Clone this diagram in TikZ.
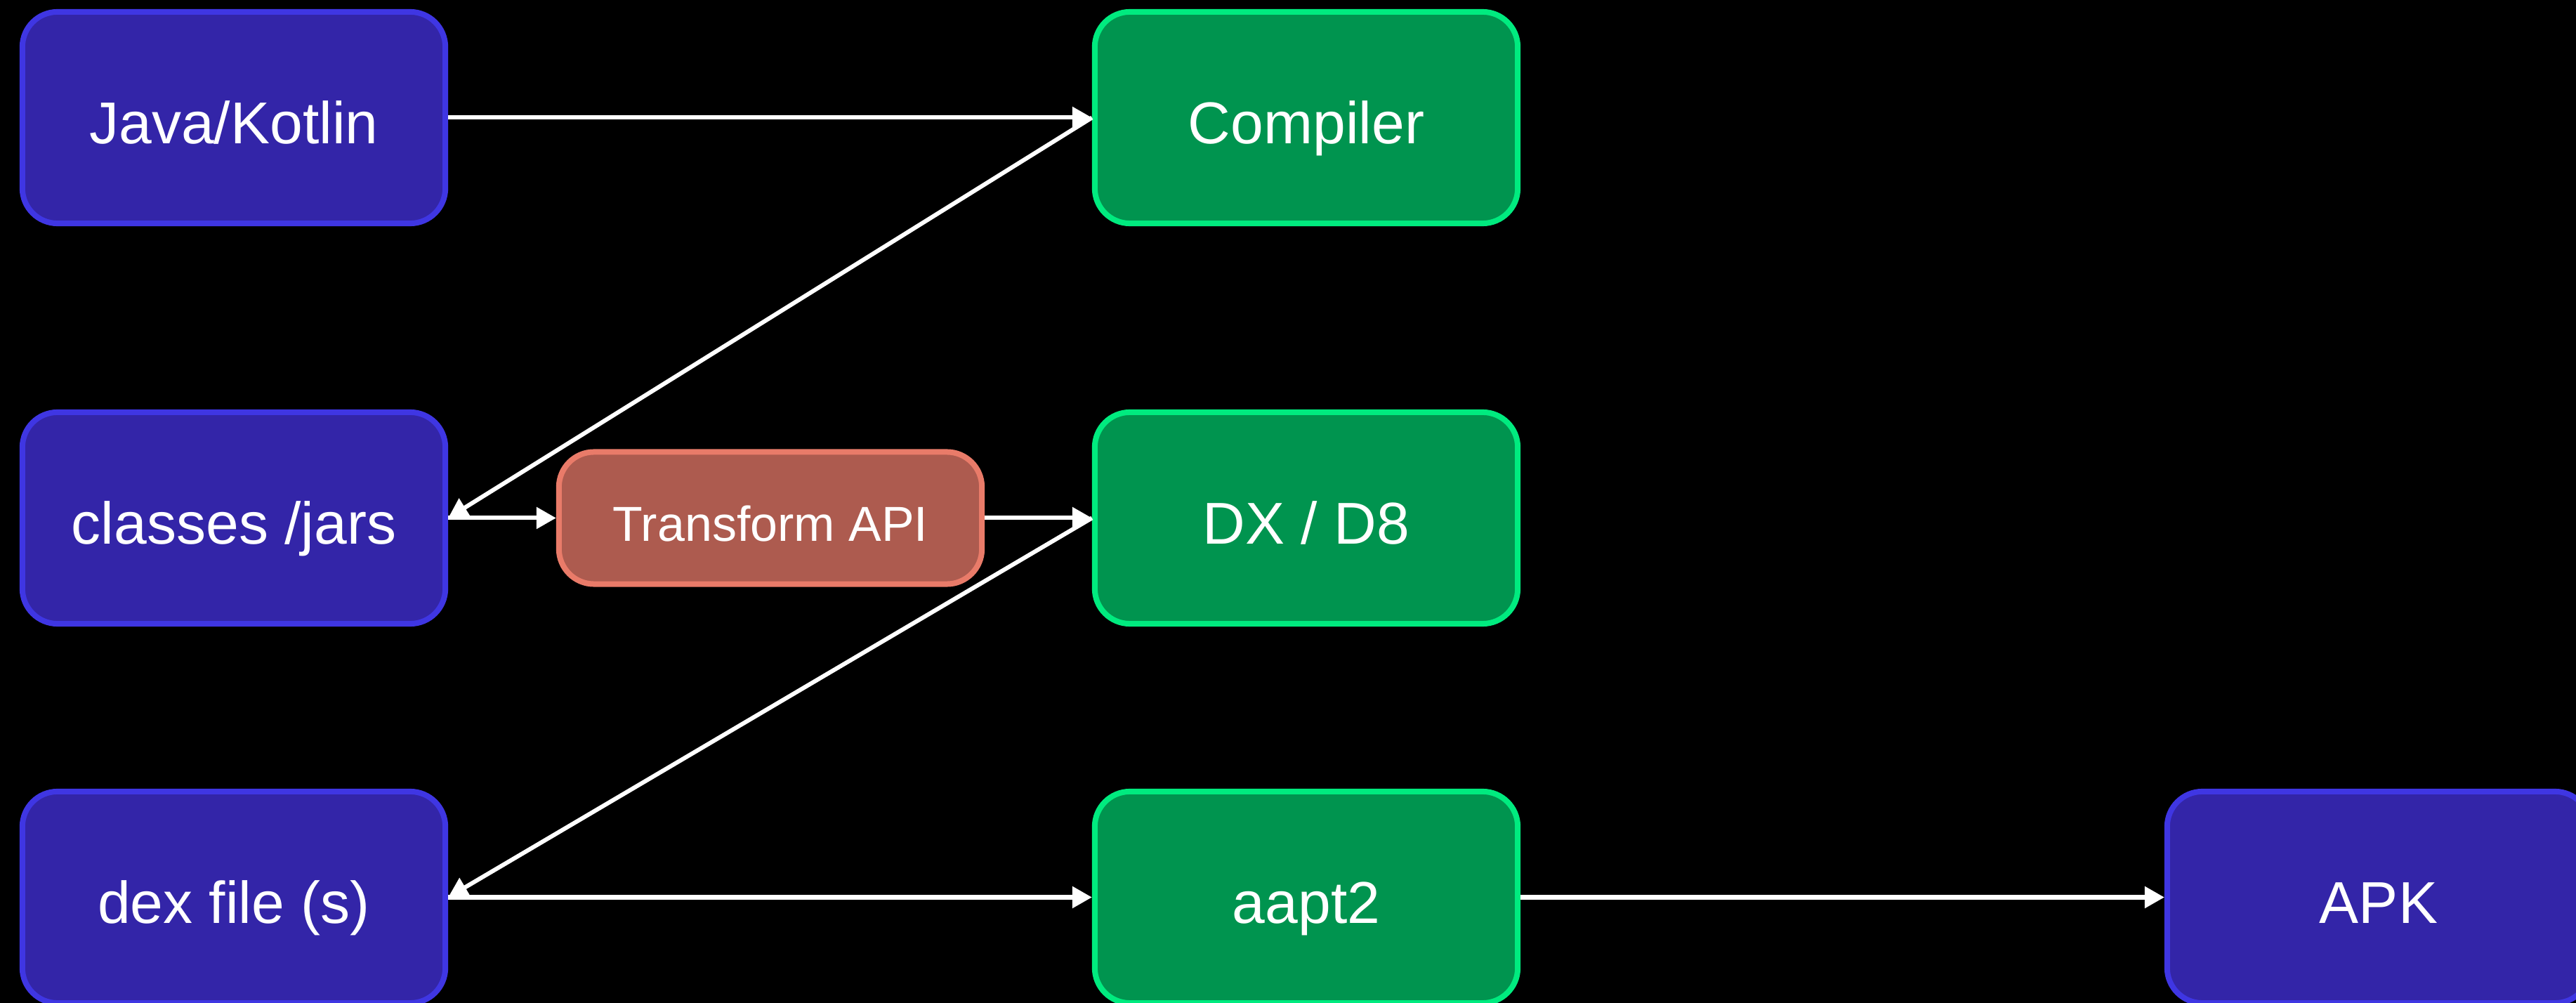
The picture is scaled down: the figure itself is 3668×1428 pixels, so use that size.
\documentclass[tikz,border=0pt]{standalone}
\usepackage{fontspec}
\setmainfont{Liberation Sans}
\usetikzlibrary{arrows.meta}
\definecolor{bluefill}{HTML}{3325A8}
\definecolor{blueline}{HTML}{3F36E3}
\definecolor{greenfill}{HTML}{00944F}
\definecolor{greenline}{HTML}{00EB7F}
\definecolor{redfill}{HTML}{AD5B4F}
\definecolor{redline}{HTML}{E97B69}
\tikzset{
  box/.style={rounded corners=0.5cm, line width=0.08cm, minimum width=6.02cm,
    minimum height=3.01cm, inner sep=0pt, text=white,
    text height=0.8cm, text depth=0.06cm,
    font=\fontsize{23.9pt}{28pt}\selectfont},
  bluebox/.style={box, draw=blueline, fill=bluefill},
  greenbox/.style={box, draw=greenline, fill=greenfill},
  redbox/.style={box, draw=redline, fill=redfill, minimum height=1.88cm,
    text height=0.7cm, text depth=0.04cm,
    font=\fontsize{19.9pt}{24pt}\selectfont},
  conn/.style={draw=white, line width=0.06cm,
    -{Triangle[length=0.28cm,width=0.3cm]}}
}
\begin{document}
\begin{tikzpicture}[x=0.01cm,y=-0.01cm]
\useasboundingbox (0,0) rectangle (3668,1428);
\fill[black] (0,0) rectangle (3668,1428);
\node[bluebox] (java) at (333,167.5) {Java/Kotlin};
\node[greenbox] (comp) at (1860,167.5) {Compiler};
\node[bluebox] (cls) at (333,737.5) {classes /jars};
\node[redbox] (tr) at (1097,737.5) {Transform API};
\node[greenbox] (dx) at (1860,737.5) {DX / D8};
\node[bluebox] (dex) at (333,1277.5) {dex file (s)};
\node[greenbox] (aapt) at (1860,1277.5) {aapt2};
\node[bluebox] (apk) at (3387,1277.5) {APK};
\draw[conn] (java) -- (comp);
\draw[conn] (comp.west) -- (cls.east);
\draw[conn] (cls) -- (tr);
\draw[conn] (tr) -- (dx);
\draw[conn] (dx.west) -- (dex.east);
\draw[conn] (dex) -- (aapt);
\draw[conn] (aapt) -- (apk);
\end{tikzpicture}
\end{document}
